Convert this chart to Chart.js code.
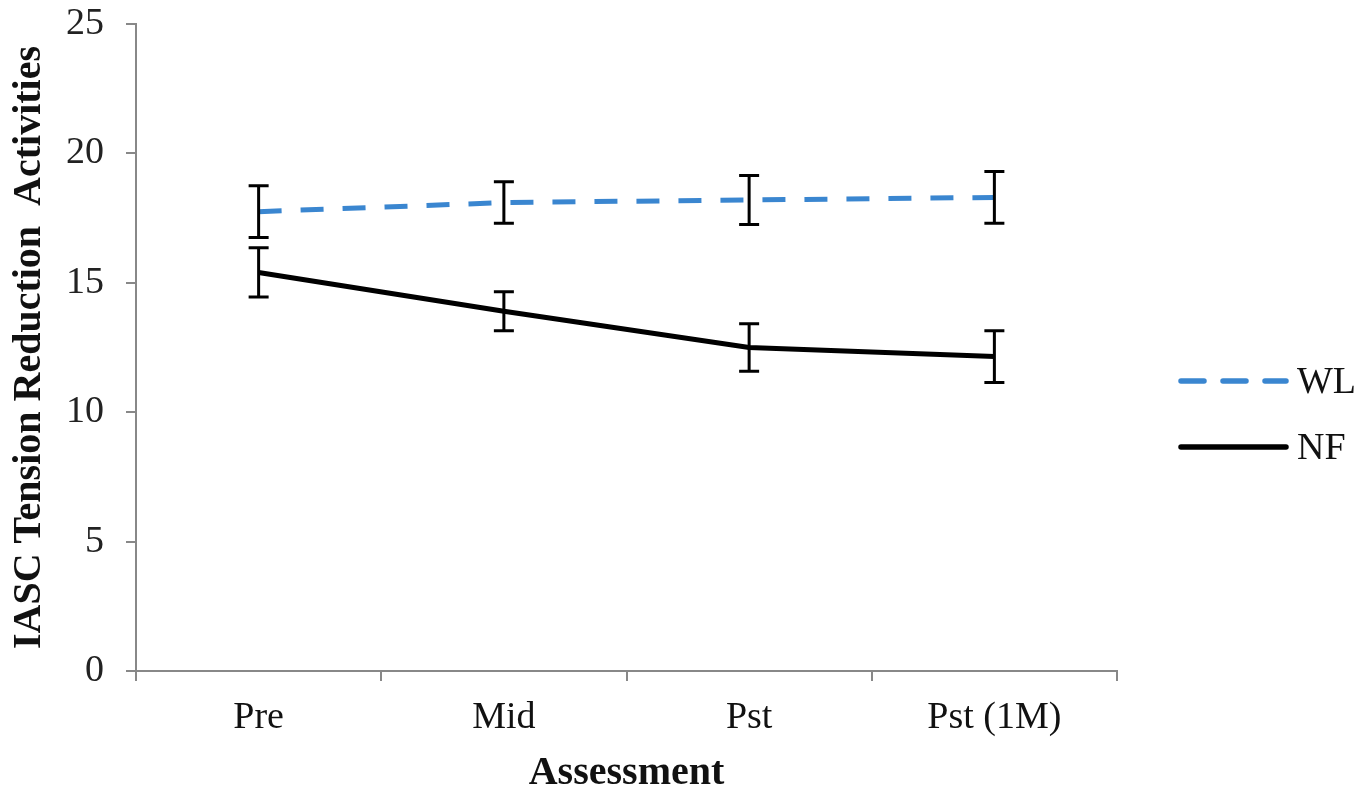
<!DOCTYPE html>
<html>
<head>
<meta charset="utf-8">
<script src="https://cdn.jsdelivr.net/npm/chart.js@4"></script>
<style>
html,body{margin:0;padding:0;background:#fff;}
#wrap{width:1371px;height:790px;position:relative;}
</style>
</head>
<body>
<div id="wrap"><canvas id="c" width="1371" height="790"></canvas></div>
<script>
const categories = ["Pre", "Mid", "Pst", "Pst (1M)"];
const wlValues = [17.75, 18.1, 18.2, 18.3];
const wlErr = [1.0, 0.8, 0.95, 1.0];
const nfValues = [15.4, 13.9, 12.5, 12.15];
const nfErr = [0.95, 0.75, 0.92, 1.0];
const yTicks = [0, 5, 10, 15, 20, 25];

const serif = "'Liberation Serif', 'DejaVu Serif', serif";

const errorBars = {
  id: 'errorBars',
  afterDatasetsDraw(chart) {
    const ctx = chart.ctx;
    const y = chart.scales.y;
    ctx.save();
    ctx.strokeStyle = '#000';
    ctx.lineWidth = 3;
    chart.data.datasets.forEach((ds, di) => {
      const meta = chart.getDatasetMeta(di);
      meta.data.forEach((pt, i) => {
        const v = ds.data[i], e = ds.err[i];
        const yt = y.getPixelForValue(v + e), yb = y.getPixelForValue(v - e);
        const x = pt.x;
        ctx.beginPath();
        ctx.moveTo(x, yt); ctx.lineTo(x, yb);
        ctx.moveTo(x - 10, yt); ctx.lineTo(x + 10, yt);
        ctx.moveTo(x - 10, yb); ctx.lineTo(x + 10, yb);
        ctx.stroke();
      });
    });
    ctx.restore();
  }
};

const customLegend = {
  id: 'customLegend',
  afterDraw(chart) {
    const ctx = chart.ctx;
    const items = chart.data.datasets;
    const ys = [381, 447];
    ctx.save();
    items.forEach((ds, i) => {
      ctx.beginPath();
      ctx.strokeStyle = ds.borderColor;
      ctx.lineWidth = 5.5;
      ctx.lineCap = 'round';
      ctx.setLineDash(ds.borderDash || []);
      ctx.moveTo(1181, ys[i]);
      ctx.lineTo(1286, ys[i]);
      ctx.stroke();
      ctx.setLineDash([]);
      ctx.fillStyle = '#111';
      ctx.font = "38px " + serif;
      ctx.textBaseline = 'middle';
      ctx.textAlign = 'left';
      ctx.fillText(ds.label, 1297, ys[i] + 2);
    });
    ctx.restore();
  }
};

new Chart(document.getElementById('c'), {
  type: 'line',
  data: {
    labels: categories,
    datasets: [
      { label: 'WL', data: wlValues, err: wlErr, borderColor: '#3a86d0', borderWidth: 5,
        borderDash: [23, 19], pointRadius: 0, tension: 0, fill: false },
      { label: 'NF', data: nfValues, err: nfErr, borderColor: '#000000', borderWidth: 5,
        pointRadius: 0, tension: 0, fill: false }
    ]
  },
  options: {
    responsive: false,
    animation: false,
    layout: { padding: { top: 0, right: 254, left: 0, bottom: 0 } },
    plugins: { legend: { display: false }, tooltip: { enabled: false } },
    scales: {
      x: {
        type: 'category',
        offset: true,
        grid: { offset: true, drawOnChartArea: false, drawTicks: true, tickLength: 10, color: '#888', lineWidth: 2 },
        border: { color: '#888', width: 2 },
        ticks: { color: '#111', font: { family: serif, size: 38, lineHeight: 1.2 }, padding: 14 },
        title: { display: true, text: 'Assessment', color: '#111', font: { family: serif, size: 40, weight: 'bold', lineHeight: 0.8 }, padding: { top: 0, bottom: 0 } },
        afterFit(s) { s.height = 790 - 671; }
      },
      y: {
        min: 0, max: 25,
        afterBuildTicks(s) { s.ticks = yTicks.map(v => ({ value: v })); },
        grid: { drawOnChartArea: false, drawTicks: true, tickLength: 10, color: '#888', lineWidth: 2 },
        border: { color: '#888', width: 2 },
        ticks: { color: '#222', font: { family: serif, size: 38, lineHeight: 1.2 }, padding: 22 },
        title: { display: true, text: 'IASC Tension Reduction  Activities', color: '#111', font: { family: serif, size: 40, weight: 'bold', lineHeight: 1.2 }, padding: { top: 6, bottom: 0 } },
        afterFit(s) { s.width = 136; s.paddingTop = 24; s.paddingBottom = 10; }
      }
    }
  },
  plugins: [errorBars, customLegend]
});
</script>
</body>
</html>
